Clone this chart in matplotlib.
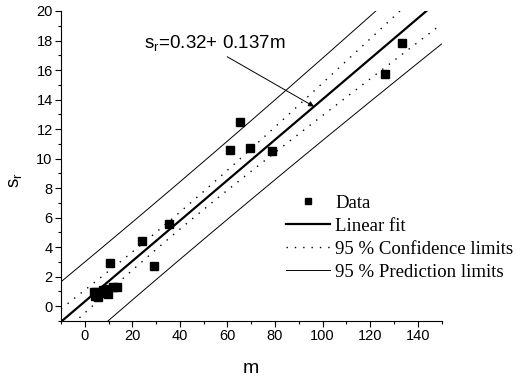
import numpy as np
import matplotlib
matplotlib.use("Agg")
import matplotlib.pyplot as plt
from matplotlib.ticker import MultipleLocator

# Data
m_data = [3.8, 4.2, 4.9, 5.6, 6.8, 7.7, 8.9, 9.9, 10.6, 12.0, 13.6,
          24.0, 29.3, 35.3, 61.0, 65.2, 69.5, 78.6, 126.4, 133.5]
s_data = [0.95, 0.68, 0.97, 0.63, 0.93, 1.13, 1.2, 0.86, 2.9, 1.31, 1.31,
          4.43, 2.71, 5.6, 10.58, 12.5, 10.73, 10.53, 15.73, 17.8]

intercept = 0.32
slope = 0.137
x_range = [-10, 150]
y_range = [-1, 20]
legend_labels = ["Data", "Linear fit", "95 % Confidence limits", "95 % Prediction limits"]
eq_text = r"s$_\mathregular{r}$=0.32+ 0.137m"

plt.rcParams['font.family'] = ['Liberation Sans', 'DejaVu Sans']

m = np.array(m_data)
s = np.array(s_data)
n = len(m)
resid = s - (intercept + slope * m)
sig = np.sqrt(np.sum(resid ** 2) / (n - 2))
t95 = 2.101  # t(0.975, n-2)
sxx = np.sum((m - m.mean()) ** 2)

xx = np.linspace(x_range[0], x_range[1], 400)
fit = intercept + slope * xx
conf = t95 * sig * np.sqrt(1.0 / n + (xx - m.mean()) ** 2 / sxx)
pred = t95 * sig * np.sqrt(1 + 1.0 / n + (xx - m.mean()) ** 2 / sxx)

fig = plt.figure(figsize=(5.17, 3.79), dpi=100)
ax = fig.add_axes([0.118, 0.153, 0.736, 0.818])

h_data, = ax.plot(m, s, ls='none', marker='s', ms=5.5, color='black', label=legend_labels[0])
h_fit, = ax.plot(xx, fit, color='black', lw=1.6, label=legend_labels[1])
h_conf, = ax.plot(xx, fit + conf, color='black', lw=1.0, ls=(0, (1, 5)), label=legend_labels[2])
ax.plot(xx, fit - conf, color='black', lw=1.0, ls=(0, (1, 5)))
h_pred, = ax.plot(xx, fit + pred, color='black', lw=0.7, label=legend_labels[3])
ax.plot(xx, fit - pred, color='black', lw=0.7)

ax.set_xlim(x_range)
ax.set_ylim(y_range)
ax.xaxis.set_minor_locator(MultipleLocator(10))
ax.yaxis.set_minor_locator(MultipleLocator(1))
ax.set_xticks(np.arange(0, 141, 20))
ax.set_yticks(np.arange(0, 21, 2))
ax.spines['top'].set_visible(False)
ax.spines['right'].set_visible(False)
ax.tick_params(which='major', direction='out', length=4, width=0.8, labelsize=10.5, pad=2)
ax.tick_params(which='minor', direction='out', length=2.5, width=0.8)

ax.set_xlabel("m", fontsize=14, va='center')
ax.xaxis.set_label_coords(0.5, -0.152)
ax.set_ylabel(r"s$_\mathregular{r}$", fontsize=13.5, va='center')
ax.yaxis.set_label_coords(-0.118, 0.455)

ax.text(25.0, 17.45, eq_text, fontsize=13.5, ha='left', va='baseline')
ax.annotate("", xy=(96.4, intercept + slope * 96.4), xytext=(59.9, 16.9),
            arrowprops=dict(arrowstyle='-|>', color='black', lw=0.7,
                            shrinkA=0, shrinkB=0, mutation_scale=8))

leg = ax.legend(handles=[h_data, h_fit, h_conf, h_pred], loc='upper left',
                bbox_to_anchor=(286.0 / 517, 1 - 194.5 / 379), bbox_transform=fig.transFigure,
                frameon=False, borderpad=0, borderaxespad=0,
                prop={'family': 'Liberation Serif', 'size': 13.5},
                handlelength=2.35, handletextpad=0.27, labelspacing=0.32, numpoints=1,
                markerscale=0.85)

fig.savefig("out.png", dpi=100)
